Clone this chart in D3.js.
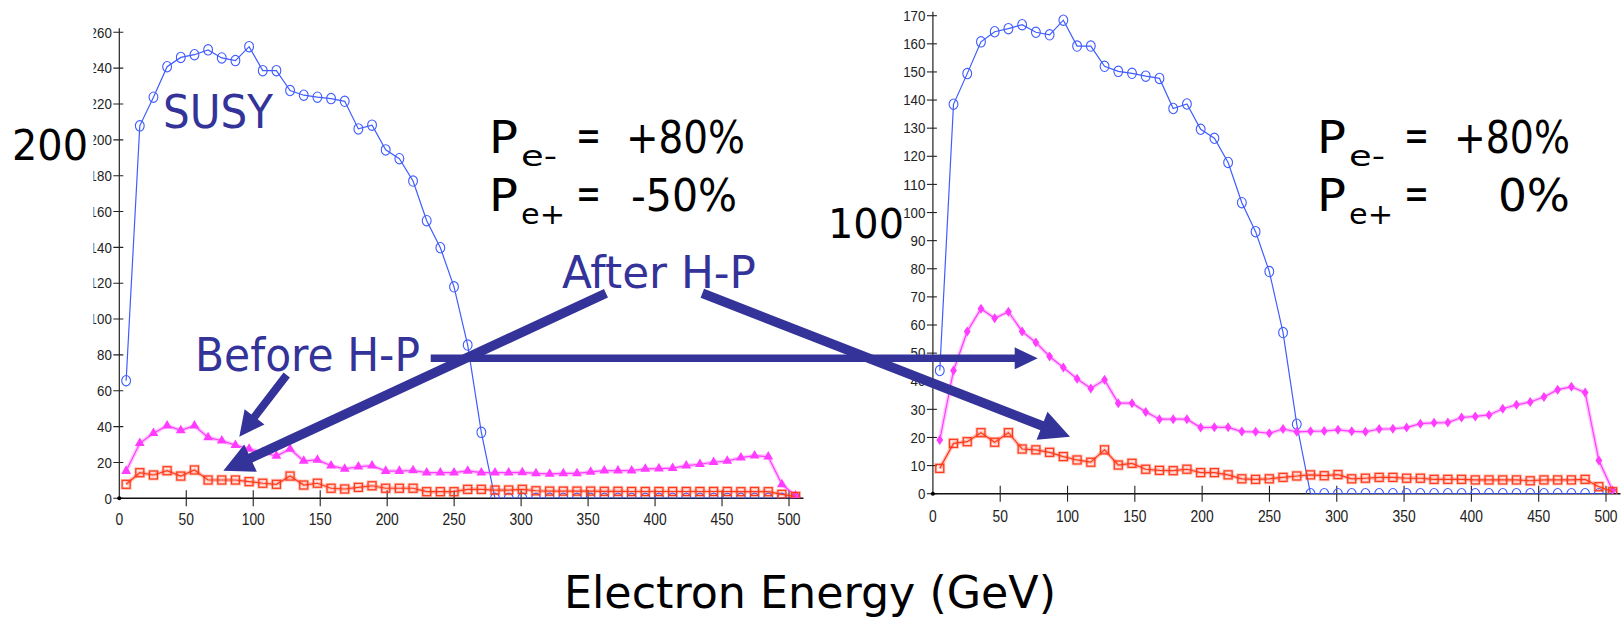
<!DOCTYPE html>
<html>
<head>
<meta charset="utf-8">
<script src="https://cdn.jsdelivr.net/npm/d3@7/dist/d3.min.js"></script>
<style>
  body { margin: 0; background: #fff; }
  svg { display: block; }
</style>
</head>
<body>
<svg id="chart" width="1623" height="620"></svg>
<script>
// Bin centres (GeV): 50 bins of 10.2 GeV covering 0-510 GeV
const energy = [5.1, 15.3, 25.5, 35.7, 45.9, 56.1, 66.3, 76.5, 86.7, 96.9,
  107.1, 117.3, 127.5, 137.7, 147.9, 158.1, 168.3, 178.5, 188.7, 198.9,
  209.1, 219.3, 229.5, 239.7, 249.9, 260.1, 270.3, 280.5, 290.7, 300.9,
  311.1, 321.3, 331.5, 341.7, 351.9, 362.1, 372.3, 382.5, 392.7, 402.9,
  413.1, 423.3, 433.5, 443.7, 453.9, 464.1, 474.3, 484.5, 494.7, 504.9];

// Left panel: P(e-) = +80%, P(e+) = -50%
const susyL = [65.6, 207.8, 223.8, 240.8, 246, 247.5, 250.2, 245.7, 244.2, 252,
  238.6, 238.6, 227.5, 224.9, 223.8, 223, 221.5, 206.1, 208.2, 194.4,
  189.5, 177, 154.9, 139.8, 118, 85.5, 36.8, 0, 0, 0,
  0, 0, 0, 0, 0, 0, 0, 0, 0, 0,
  0, 0, 0, 0, 0, 0, 0, 0, 0, 0];
const beforeL = [15.2, 30.7, 36.3, 40.5, 37.9, 40.5, 34, 32.1, 29.7, 27.5,
  25.7, 23.6, 27.5, 20.8, 21.4, 18.2, 16.4, 17.6, 18.2, 15.2,
  15.2, 15.5, 14.3, 14.3, 14.3, 15.3, 14.3, 14.3, 14.3, 14.5,
  13.9, 13.6, 13.9, 13.9, 14.7, 15.4, 15.4, 15.4, 16.4, 16.6,
  16.8, 18.2, 19, 20.1, 20.8, 22.7, 23.8, 23.2, 7.8, 1.5];
const afterL = [7.8, 14.3, 13, 15.4, 12.4, 15.8, 10.2, 10.2, 10.2, 9.3,
  8.4, 7.8, 12.4, 7.4, 8.4, 5.6, 5.2, 6.1, 7, 5.6,
  5.6, 5.6, 3.7, 3.7, 3.7, 5, 5, 4.6, 4.6, 5,
  4.2, 4, 4, 4, 4, 3.9, 3.9, 3.8, 3.8, 3.8,
  3.8, 3.8, 3.8, 3.8, 3.8, 3.7, 3.8, 3.7, 2.2, 1];

// Right panel: P(e-) = +80%, P(e+) = 0%
const susyR = [43.8, 138.5, 149.4, 160.7, 164.3, 165.4, 166.8, 164.1, 163.2, 168.4,
  159.2, 159.2, 152, 150.2, 149.5, 148.5, 147.7, 137, 138.6, 129.6,
  126.4, 117.8, 103.5, 93.2, 79, 57.3, 24.7, 0, 0, 0,
  0, 0, 0, 0, 0, 0, 0, 0, 0, 0,
  0, 0, 0, 0, 0, 0, 0, 0, 0, 0];
const beforeR = [19.1, 43.8, 57.7, 65.8, 62.4, 64.7, 57.7, 53.8, 48.8, 44.9,
  40.9, 37.4, 40.5, 32.2, 32.2, 29.1, 26.5, 26.5, 26.5, 23.5,
  23.6, 23.6, 22.1, 22, 21.5, 23, 22, 22.2, 22.3, 22.7,
  22.2, 22, 23, 23.1, 23.5, 24.9, 25.2, 25.3, 27.1, 27.5,
  28, 30.2, 31.6, 32.6, 34.4, 37, 38, 36, 11.8, 1.1];
const afterR = [9, 17.9, 18.5, 21.7, 18.3, 21.7, 15.9, 15.6, 14.7, 13.2,
  12, 11.2, 15.6, 10.2, 10.8, 8.7, 8.3, 8.2, 8.7, 7.5,
  7.5, 6.7, 5.3, 5.1, 5.3, 5.8, 6.3, 6.7, 6.4, 6.8,
  5.3, 5.5, 5.8, 5.8, 5.5, 5.5, 5.1, 5.1, 5.1, 4.9,
  4.9, 4.9, 4.9, 4.6, 4.9, 4.9, 4.9, 5.1, 2.5, 0.7];

// Axis tick labels
const xTicks = [0, 50, 100, 150, 200, 250, 300, 350, 400, 450, 500];
const yTicksL = [0, 20, 40, 60, 80, 100, 120, 140, 160, 180, 200, 220, 240, 260];
const yTicksR = [0, 10, 20, 30, 40, 50, 60, 70, 80, 90, 100, 110, 120, 130, 140, 150, 160, 170];

const COLORS = { susy: "#3f5cff", before: "#ff3cff", after: "#ff3a1c", note: "#333399" };
const TEXT_FONT = "'DejaVu Sans', Verdana, sans-serif";
const TICK_FONT = "'Liberation Sans', Arial, sans-serif";

const svg = d3.select("#chart");
const defs = svg.append("defs");

function panel(opts) {
  const x = d3.scaleLinear().domain([0, 500]).range([opts.x0, opts.x500]);
  const y = d3.scaleLinear().domain([0, opts.yMax]).range([opts.yBase, opts.yTop]);
  const g = svg.append("g");
  if (opts.cropLeft !== undefined) {
    defs.append("clipPath").attr("id", opts.id + "-crop")
      .append("rect").attr("x", opts.cropLeft).attr("y", 0)
      .attr("width", 1623 - opts.cropLeft).attr("height", 620);
    g.attr("clip-path", `url(#${opts.id}-crop)`);
  }

  // Plot area clip: markers sitting on zero are cut by the x-axis
  defs.append("clipPath").attr("id", opts.id + "-plot")
    .append("rect").attr("x", x(0)).attr("y", 0)
    .attr("width", x(512) - x(0)).attr("height", y(0));

  // y axis
  const yAxis = g.append("g");
  yAxis.append("line")
    .attr("x1", x(0)).attr("x2", x(0))
    .attr("y1", y(opts.yMax) - 4).attr("y2", y(0))
    .attr("stroke", "#222").attr("stroke-width", 1.2);
  const yt = yAxis.selectAll("g.yt").data(opts.yTicks).join("g").attr("class", "yt");
  yt.append("line")
    .attr("x1", x(0) - 6).attr("x2", x(0) + 4)
    .attr("y1", d => y(d)).attr("y2", d => y(d))
    .attr("stroke", "#222").attr("stroke-width", 1.1);
  yt.append("text")
    .attr("x", x(0) - 7.5).attr("y", d => y(d) + 5.2)
    .attr("text-anchor", "end")
    .attr("font-family", TICK_FONT).attr("font-size", 14.5).attr("fill", "#222")
    .attr("textLength", d => String(d).length * 7.4)
    .attr("lengthAdjust", "spacingAndGlyphs")
    .text(d => d);

  // x axis
  const xAxis = g.append("g");
  xAxis.append("line")
    .attr("x1", x(0) - 2).attr("x2", x(510) + 1)
    .attr("y1", y(0)).attr("y2", y(0))
    .attr("stroke", "#111").attr("stroke-width", 1.6);
  const xt = xAxis.selectAll("g.xt").data(opts.xTicks).join("g").attr("class", "xt");
  xt.filter(d => d > 0).append("line")
    .attr("x1", d => x(d)).attr("x2", d => x(d))
    .attr("y1", y(0) - 8).attr("y2", y(0) + 8)
    .attr("stroke", "#222").attr("stroke-width", 1.1);
  xt.append("text")
    .attr("x", d => x(d)).attr("y", y(0) + opts.xLabelDy)
    .attr("text-anchor", "middle")
    .attr("font-family", TICK_FONT).attr("font-size", 16.5).attr("fill", "#222")
    .attr("textLength", d => String(d).length * 7.7)
    .attr("lengthAdjust", "spacingAndGlyphs")
    .text(d => d);
  xAxis.append("circle").attr("cx", x(0)).attr("cy", y(0)).attr("r", 2).attr("fill", "#000");

  const plot = g.append("g").attr("clip-path", `url(#${opts.id}-plot)`);
  const line = d3.line().x(d => x(d[0])).y(d => y(d[1]));

  opts.series.forEach(s => {
    const pts = energy.map((e, i) => [e, s.values[i]]);
    if (s.glow) {
      plot.append("path").attr("d", line(pts)).attr("fill", "none")
        .attr("stroke", s.color).attr("stroke-opacity", 0.28).attr("stroke-width", 4);
    }
    plot.append("path").attr("d", line(pts)).attr("fill", "none")
      .attr("stroke", s.color).attr("stroke-width", 1.2);
    const m = plot.append("g").selectAll("g").data(pts).join("g")
      .attr("transform", d => `translate(${x(d[0])},${y(d[1])})`);
    if (s.marker === "circle") {
      m.append("ellipse").attr("rx", 4.4).attr("ry", 5.2)
        .attr("fill", "none").attr("stroke", s.color).attr("stroke-width", 1.1);
    } else if (s.marker === "triangle") {
      m.append("path").attr("d", d3.symbol(d3.symbolTriangle, 42)())
        .attr("fill", s.color);
    } else if (s.marker === "diamond") {
      m.append("path").attr("d", "M0,-5L3.4,0L0,5L-3.4,0Z").attr("fill", s.color);
    } else if (s.marker === "square") {
      if (s.glow) {
        m.append("rect").attr("x", -4).attr("y", -4).attr("width", 8).attr("height", 8)
          .attr("fill", "none").attr("stroke", s.color).attr("stroke-opacity", 0.3).attr("stroke-width", 3);
      }
      m.append("rect").attr("x", -4).attr("y", -4).attr("width", 8).attr("height", 8)
        .attr("fill", "none").attr("stroke", s.color).attr("stroke-width", 1.2);
    }
  });
  return { x, y };
}

panel({
  id: "left", x0: 119.3, x500: 789, yBase: 498.3, yTop: 32.3, yMax: 260,
  yTicks: yTicksL, xTicks, xLabelDy: 27, cropLeft: 93.5,
  series: [
    { values: susyL, color: COLORS.susy, marker: "circle" },
    { values: beforeL, color: COLORS.before, marker: "triangle", glow: true },
    { values: afterL, color: COLORS.after, marker: "square", glow: true }
  ]
});

panel({
  id: "right", x0: 932.9, x500: 1606, yBase: 493.7, yTop: 15.7, yMax: 170,
  yTicks: yTicksR, xTicks, xLabelDy: 28.5,
  series: [
    { values: susyR, color: COLORS.susy, marker: "circle" },
    { values: beforeR, color: COLORS.before, marker: "diamond", glow: true },
    { values: afterR, color: COLORS.after, marker: "square", glow: true }
  ]
});

// Annotation arrows: shaft + triangular head
const arrows = [
  { from: [286.7, 375], to: [239.3, 436.7], w: 8, head: 25, half: 12.5 },
  { from: [606, 293.3], to: [223.3, 470.7], w: 9.5, head: 30, half: 15 },
  { from: [430.7, 358.3], to: [1037.7, 358.3], w: 7.5, head: 23, half: 11 },
  { from: [702.3, 293.3], to: [1070, 436.7], w: 9.5, head: 30, half: 15 }
];
arrows.forEach(a => {
  const [x1, y1] = a.from, [x2, y2] = a.to;
  const len = Math.hypot(x2 - x1, y2 - y1);
  const ux = (x2 - x1) / len, uy = (y2 - y1) / len;
  const nx = -uy, ny = ux;
  const bx = x2 - ux * a.head, by = y2 - uy * a.head;
  const hw = a.w / 2;
  const pts = [
    [x1 + nx * hw, y1 + ny * hw], [bx + nx * hw, by + ny * hw],
    [bx + nx * a.half, by + ny * a.half], [x2, y2],
    [bx - nx * a.half, by - ny * a.half], [bx - nx * hw, by - ny * hw],
    [x1 - nx * hw, y1 - ny * hw]
  ];
  svg.append("path").attr("d", "M" + pts.map(p => p.join(",")).join("L") + "Z")
    .attr("fill", COLORS.note);
});

// Text labels
function label(str, x, y, size, color, width) {
  const t = svg.append("text").attr("x", x).attr("y", y)
    .attr("font-family", TEXT_FONT).attr("font-size", size).attr("fill", color)
    .text(str);
  if (width) t.attr("textLength", width).attr("lengthAdjust", "spacingAndGlyphs");
  return t;
}

label("SUSY", 163, 128.3, 46, COLORS.note, 110);
label("Before H-P", 195, 370.7, 46, COLORS.note, 225);
label("After H-P", 562, 288.3, 45, COLORS.note, 194);

label("200", 12, 159.5, 42, "#000", 76);
label("100", 828, 238.3, 41, "#000", 76);

// Beam polarisation settings
function polarisation(x0, lines) {
  lines.forEach((ln, i) => {
    const base = 153.3 + i * 57.4;
    label("P", x0, base, 45, "#000", 29);
    label(ln.sub, x0 + 32, base + 13, 28, "#000", ln.sub === "e-" ? 36 : 44);
    label("=", x0 + 87, base - 2, 45, "#000", 25);
    label(ln.value, x0 + ln.dx, base, 45, "#000", ln.w);
  });
}
polarisation(489, [
  { sub: "e-", value: "+80%", dx: 137, w: 119 },
  { sub: "e+", value: "-50%", dx: 142, w: 106 }
]);
polarisation(1317, [
  { sub: "e-", value: "+80%", dx: 137, w: 116 },
  { sub: "e+", value: "0%", dx: 181, w: 72 }
]);

label("Electron Energy (GeV)", 564, 608, 44, "#000", 492);
</script>
</body>
</html>
